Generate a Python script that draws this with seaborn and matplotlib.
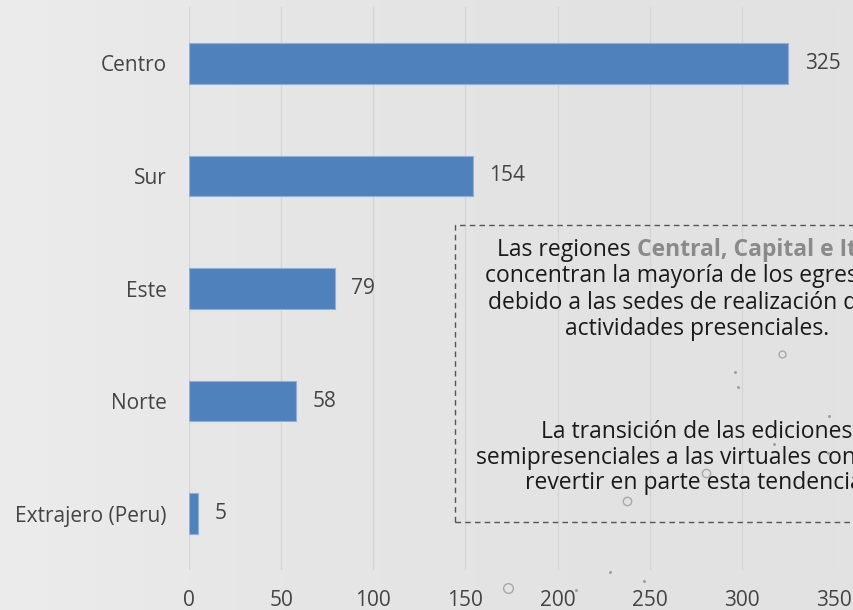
import numpy as np
import pandas as pd
import matplotlib
matplotlib.use("Agg")
import matplotlib.pyplot as plt
from matplotlib.patches import Rectangle
import seaborn as sns

# Egresados por región
regiones = ["Centro", "Sur", "Este", "Norte", "Extrajero (Peru)"]
egresados = [325, 154, 79, 58, 5]
ticks_x = [0, 50, 100, 150, 200, 250, 300, 350]

nota_1 = ["concentran la mayoría de los egresados",
          "debido a las sedes de realización de las",
          "actividades presenciales."]
nota_2 = ["La transición de las ediciones",
          "semipresenciales a las virtuales consiguió",
          "revertir en parte esta tendencia."]

df = pd.DataFrame({"region": regiones, "egresados": egresados})

sns.set_theme(style="white")
plt.rcParams["font.family"] = ["Open Sans", "DejaVu Sans"]

W, H = 854, 610
fig = plt.figure(figsize=(W / 100, H / 100), dpi=100)

# soft grey background, a little lighter on the left
bg = fig.add_axes([0, 0, 1, 1], zorder=-10)
grad = np.linspace(0, 1, 1024)[None, :]
cmap_bg = matplotlib.colors.LinearSegmentedColormap.from_list(
    "bg", ["#ececec", "#e6e6e6", "#e3e3e3", "#e2e2e2"], N=1024)
bg.imshow(grad, aspect="auto", cmap=cmap_bg, extent=[0, 1, 0, 1],
          interpolation="bilinear")
# faint bokeh specks
rings = [(508, 588, 7), (627, 501, 6), (706, 473, 6), (782, 354, 5)]
specks = [(735, 372), (738, 387), (829, 416), (774, 444), (828, 453),
          (576, 590), (610, 572), (644, 581)]
for x, y, s in rings:
    bg.plot(x / W, 1 - y / H, "o", ms=s, mfc="none", mec="#a8a8a8", mew=1.0)
for x, y in specks:
    bg.plot(x / W, 1 - y / H, "o", ms=2.2, mfc="#a0a0a0", mec="none")
bg.set_xlim(0, 1)
bg.set_ylim(0, 1)
bg.axis("off")

ax = fig.add_axes([189 / W, 1 - 570 / H, (834 - 189) / W, (570 - 7) / H])
ax.patch.set_alpha(0)

sns.barplot(data=df, y="region", x="egresados", orient="h", ax=ax,
            color="#4f81bd", saturation=1, width=0.36,
            edgecolor="#8fb0dc", linewidth=0.8, zorder=3)

ax.set_xlim(0, 350)
ax.set_ylim(4.5, -0.5)
ax.set_xticks(ticks_x)
ax.set_xticklabels([str(t) for t in ticks_x])
ax.grid(axis="x", color="#d6d6d6", linewidth=1.0, zorder=0)
ax.grid(axis="y", visible=False)
for s in ax.spines.values():
    s.set_visible(False)
ax.set_xlabel("")
ax.set_ylabel("")
ax.tick_params(axis="both", length=0, labelsize=15, colors="#444444")
ax.tick_params(axis="y", pad=16)
ax.tick_params(axis="x", pad=14.5)

for i, v in enumerate(egresados):
    ax.annotate(str(v), xy=(v, i), xytext=(12, 0), textcoords="offset points",
                va="center", ha="left", fontsize=15, color="#444444")

# dashed note box (runs past the right edge)
box = Rectangle((455 / W, 1 - 522 / H), (940 - 455) / W, (522 - 225) / H,
                transform=fig.transFigure, fill=False, edgecolor="#555555",
                linestyle=(0, (4, 3)), linewidth=1.0, clip_on=False)
fig.patches.append(box)

cx = 697 / W
fs = 16.5
t1 = fig.text(497 / W, 1 - 250 / H, "Las regiones ", ha="left", va="center",
              fontsize=fs, color="#1a1a1a")
fig.canvas.draw()
r = fig.canvas.get_renderer()
bb = t1.get_window_extent(r)
fig.text(bb.x1 / W, 1 - 250 / H, "Central, Capital e Itapúa", ha="left", va="center",
         fontsize=fs, color="#8a8a8a", fontweight="bold")

for k, line in enumerate(nota_1):
    fig.text(cx, 1 - (276 + 26.5 * k) / H, line, ha="center", va="center",
             fontsize=fs, color="#1a1a1a")
for k, line in enumerate(nota_2):
    fig.text(cx, 1 - (432 + 25.5 * k) / H, line, ha="center", va="center",
             fontsize=fs, color="#1a1a1a")

fig.savefig("out.png", dpi=100)
